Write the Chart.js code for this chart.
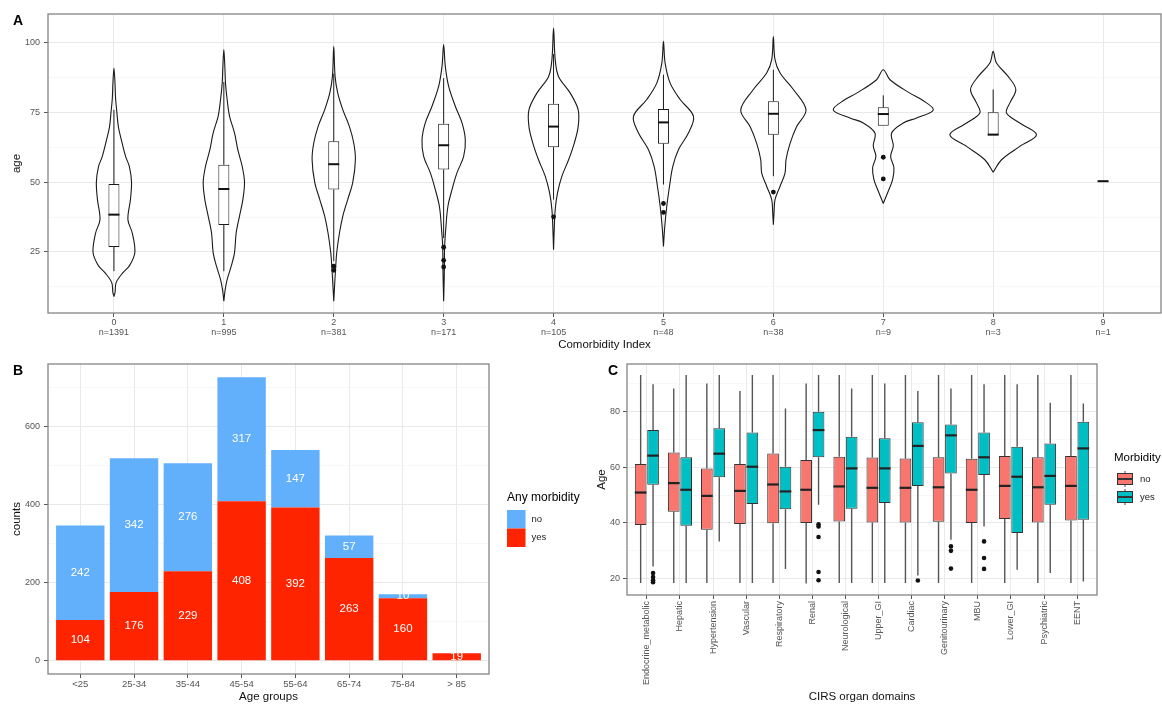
<!DOCTYPE html>
<html><head><meta charset="utf-8">
<script src="https://cdn.jsdelivr.net/npm/chart.js@4.4.1/dist/chart.umd.min.js"></script>
<style>
html,body{margin:0;padding:0;background:#fff;width:1162px;height:704px;overflow:hidden;font-family:'Liberation Sans',Arial,sans-serif;}
.wrap{position:absolute;}
.tag{position:absolute;font-weight:bold;font-size:14px;line-height:14px;color:#000;z-index:5;}
</style></head><body>
<div class="wrap" style="left:0;top:0;width:1162px;height:352px"><canvas id="cA"></canvas></div>
<div class="wrap" style="left:0;top:352px;width:590px;height:352px"><canvas id="cB"></canvas></div>
<div class="wrap" style="left:590px;top:352px;width:572px;height:352px"><canvas id="cC"></canvas></div>
<div class="tag" style="left:13px;top:13px">A</div>
<div class="tag" style="left:13px;top:363px">B</div>
<div class="tag" style="left:608px;top:363px">C</div>
<script>
// ---------------- DATA ----------------
// Panel A: Comorbidity index vs age (violin + box)
const comorbidityIndex = ['0','1','2','3','4','5','6','7','8','9'];
const comorbidityN = [1391, 995, 381, 171, 105, 48, 38, 9, 3, 1];
const violinAges = [
  [9, 10.5, 14, 17.5, 20, 24.7, 31.8, 36.6, 43.8, 50, 55.7, 59.3, 65.3, 70, 75, 80, 86, 91],
  [7.3, 11.5, 15.1, 19.9, 24.7, 31.8, 37.8, 43.8, 50, 55.7, 61.7, 67.7, 73.7, 79.7, 85.6, 91.6, 97.6],
  [7.3, 13.9, 19.9, 24.7, 31.8, 37.8, 43.8, 50, 58.1, 64.1, 70.1, 76.1, 82.1, 88, 98.8],
  [7.3, 17.5, 27, 34.2, 41.4, 47.4, 53.4, 59.3, 65.3, 71.3, 77.3, 84.5, 91.6, 99.4],
  [25.8, 33, 40.2, 46.2, 52.2, 58, 64, 70, 76, 82, 88, 94, 105.4],
  [27, 34.2, 41.4, 48.6, 55.7, 61.7, 67.7, 73.7, 79.7, 85.6, 92.8, 100.6],
  [34.8, 39, 43.8, 48.6, 53.3, 58.1, 64, 70, 76, 83.3, 89.2, 94, 102.3],
  [42.4, 46.8, 51, 55.2, 59.3, 63, 67.7, 71.3, 73.1, 76, 79.7, 82, 86.8, 90.4],
  [53.6, 58.1, 62.9, 67.1, 71.3, 74.9, 78.5, 83.3, 88, 92.8, 97]
];
const violinHalfWidths = [
  [0, .01, .02, .08, .14, .19, .167, .127, .15, .16, .14, .106, .067, .04, .027, .015, .009, 0],
  [0, .012, .03, .067, .097, .112, .142, .173, .188, .167, .127, .097, .052, .03, .015, .009, 0],
  [0, .009, .018, .027, .052, .082, .127, .173, .197, .182, .142, .082, .036, .012, 0],
  [0, .006, .009, .021, .039, .076, .121, .182, .197, .167, .106, .045, .015, 0],
  [0, .006, .015, .036, .076, .136, .188, .224, .224, .152, .045, .015, 0],
  [0, .012, .03, .055, .085, .136, .227, .273, .152, .061, .015, 0],
  [0, .006, .015, .061, .106, .115, .152, .212, .297, .182, .061, .015, 0],
  [0, .045, .085, .097, .067, .091, .076, .182, .303, .455, .348, .242, .061, 0],
  [0, .076, .242, .394, .242, .121, .152, .206, .136, .03, 0]
];
const ciQ1     = [26.8, 34.7, 47.4, 54.6, 62.6, 63.8, 67.1, 70.3, 67.1, 50.4];
const ciMedian = [38.4, 47.6, 56.5, 63.3, 70.0, 71.5, 74.6, 74.5, 67.1, 50.4];
const ciQ3     = [49.4, 56.3, 64.7, 71.0, 78.2, 76.3, 79.1, 76.9, 75.1, 50.4];
const ciLow    = [18.1, 18.1, 21.7, 30.0, 43.8, 49.2, 52.2, 70.3, 67.1, 50.4];
const ciHigh   = [76.0, 86.0, 89.0, 87.4, 96.0, 88.6, 90.4, 81.2, 83.3, 50.4];
const ciOutliers = [[], [], [19.9, 18.4], [26.7, 22, 19.6], [37.6], [42.4, 39.2], [46.5], [59, 51.2], [], []];
const ageTicksA = [12.5, 25, 37.5, 50, 62.5, 75, 87.5, 100];

// Panel B: Age groups, stacked counts
const ageGroups = ['<25', '25-34', '35-44', '45-54', '55-64', '65-74', '75-84', '> 85'];
const morbidityYes = [104, 176, 229, 408, 392, 263, 160, 19];
const morbidityNo  = [242, 342, 276, 317, 147, 57, 10, 0];
const countTicksB = [0, 100, 200, 300, 400, 500, 600, 700];

// Panel C: CIRS organ domains, age boxplots by morbidity
const domains = ['Endocrine_metabolic','Hepatic','Hypertension','Vascular','Respiratory','Renal','Neurological','Upper_GI','Cardiac','Genitourinary','MBU','Lower_GI','Psychiatric','EENT'];
const noQ1   = [39.2, 44.0, 37.5, 39.6, 39.8, 39.9, 40.5, 40.1, 40.1, 40.4, 39.9, 41.4, 40.1, 40.8];
const noMed  = [50.9, 54.3, 49.7, 51.5, 53.8, 51.9, 53.1, 52.6, 52.6, 52.8, 51.9, 53.3, 52.8, 53.3];
const noQ3   = [61.2, 65.3, 59.6, 61.2, 65.0, 62.6, 63.8, 63.5, 63.2, 63.6, 63.1, 64.1, 63.6, 64.1];
const noLow  = [18.3, 18.3, 18.3, 18.3, 18.3, 18.1, 18.3, 18.3, 18.3, 18.3, 18.3, 18.3, 18.3, 18.3];
const noHigh = [93.2, 88.4, 90.2, 87.5, 93.2, 90.2, 93.2, 93.2, 93.2, 93.2, 93.2, 93.2, 93.2, 93.2];
const noOutliers = [[], [], [], [], [], [], [], [], [], [], [], [], [], []];
const yesQ1   = [53.7, 38.9, 56.4, 46.8, 44.9, 63.6, 45.1, 47.1, 53.3, 57.8, 57.2, 36.3, 46.5, 41.1];
const yesMed  = [64.2, 51.9, 64.9, 60.2, 51.3, 73.4, 59.6, 59.6, 67.7, 71.5, 63.6, 56.6, 56.9, 66.8];
const yesQ3   = [73.4, 63.6, 74.1, 72.5, 60.2, 80.0, 71.0, 70.5, 76.2, 75.4, 72.5, 67.4, 68.6, 76.4];
const yesLow  = [24.3, 18.3, 33.3, 18.3, 23.4, 46.5, 18.3, 18.3, 21.0, 33.9, 38.7, 23.1, 21.9, 18.9];
const yesHigh = [89.9, 93.2, 93.2, 93.2, 81.2, 93.2, 88.4, 90.2, 87.5, 88.4, 89.9, 89.9, 83.2, 83.0];
const yesOutliers = [[21.9, 20.5, 19.3, 18.6], [], [], [], [], [39.5, 38.7, 34.9, 22.3, 19.3], [], [], [19.2], [31.5, 29.9, 23.5], [33.3, 27.3, 23.4], [], [], []];
const ageTicksC = [20, 30, 40, 50, 60, 70, 80, 90];

// ---------------- STYLE / HELPERS ----------------
const FONT = "'Liberation Sans', Arial, Helvetica, sans-serif";
Chart.defaults.font.family = FONT;
Chart.defaults.color = '#4d4d4d';
const RED_B = '#FF2400', BLUE_B = '#62AFFC';
const RED_C = '#F8766D', TEAL_C = '#00BFC4';

function gridFor(isMajor) {
  return {
    color: c => (c.tick && isMajor(c.tick.value)) ? '#e9e9e9' : '#f4f4f4',
    lineWidth: c => (c.tick && isMajor(c.tick.value)) ? 1 : 0.6,
    tickColor: c => (c.tick && isMajor(c.tick.value)) ? '#555' : 'rgba(0,0,0,0)',
    tickLength: 4, tickWidth: 1, offset: false
  };
}

const panelBorder = {
  id: 'panelBorder',
  afterDraw(chart) {
    const a = chart.chartArea, ctx = chart.ctx;
    ctx.save(); ctx.strokeStyle = '#858585'; ctx.lineWidth = 1.3;
    ctx.strokeRect(a.left, a.top, a.right - a.left, a.bottom - a.top);
    ctx.restore();
  }
};

const boxDetail = {
  id: 'boxDetail',
  beforeDatasetsDraw(chart, args, o) {
    const ys = chart.scales.y, ctx = chart.ctx;
    chart.data.datasets.forEach((ds, di) => {
      if (!ds.stats) return;
      chart.getDatasetMeta(di).data.forEach((bar, j) => {
        ctx.save(); ctx.strokeStyle = o.whiskerColor; ctx.lineWidth = o.whiskerWidth;
        ctx.beginPath();
        ctx.moveTo(bar.x, ys.getPixelForValue(ds.stats.high[j])); ctx.lineTo(bar.x, ys.getPixelForValue(ds.stats.q3[j]));
        ctx.moveTo(bar.x, ys.getPixelForValue(ds.stats.q1[j])); ctx.lineTo(bar.x, ys.getPixelForValue(ds.stats.low[j]));
        ctx.stroke(); ctx.restore();
      });
    });
  },
  afterDatasetsDraw(chart, args, o) {
    const ys = chart.scales.y, ctx = chart.ctx;
    chart.data.datasets.forEach((ds, di) => {
      if (!ds.stats) return;
      chart.getDatasetMeta(di).data.forEach((bar, j) => {
        const w = bar.width / 2;
        const ym = ys.getPixelForValue(ds.stats.med[j]);
        ctx.save(); ctx.strokeStyle = o.medianColor; ctx.lineWidth = o.medianWidth;
        ctx.beginPath(); ctx.moveTo(bar.x - w, ym); ctx.lineTo(bar.x + w, ym); ctx.stroke();
        ctx.fillStyle = '#111';
        (ds.stats.out[j] || []).forEach(v => {
          ctx.beginPath(); ctx.arc(bar.x, ys.getPixelForValue(v), o.pointRadius, 0, Math.PI * 2); ctx.fill();
        });
        ctx.restore();
      });
    });
  }
};

const barLabels = {
  id: 'barLabels',
  afterDatasetsDraw(chart) {
    const ctx = chart.ctx;
    ctx.save(); ctx.fillStyle = '#fff'; ctx.font = '11.5px ' + FONT;
    ctx.textAlign = 'center'; ctx.textBaseline = 'middle';
    chart.data.datasets.forEach((ds, di) => {
      chart.getDatasetMeta(di).data.forEach((el, j) => {
        const v = ds.data[j].y;
        if (!v) return;
        ctx.fillText(String(v), el.x, (el.y + el.base) / 2);
      });
    });
    ctx.restore();
  }
};

const sideLegend = {
  id: 'sideLegend',
  afterDraw(chart, args, o) {
    if (!o || !o.title) return;
    const ctx = chart.ctx;
    ctx.save();
    ctx.fillStyle = '#000'; ctx.font = o.titleSize + 'px ' + FONT;
    ctx.textAlign = 'left'; ctx.textBaseline = 'middle';
    ctx.fillText(o.title, o.x, o.y);
    o.order.forEach((di, k) => {
      const ds = chart.data.datasets[di];
      const top = o.keyTop + k * o.key;
      const cx = o.x + o.keyInset + o.key / 2;
      if (o.glyph === 'box') {
        ctx.strokeStyle = '#444'; ctx.lineWidth = 1;
        ctx.beginPath(); ctx.moveTo(cx, top + 1); ctx.lineTo(cx, top + o.key - 1); ctx.stroke();
        ctx.fillStyle = ds.backgroundColor;
        ctx.fillRect(o.x + o.keyInset + 1.5, top + 3.5, o.key - 3, o.key - 7);
        ctx.strokeStyle = '#333';
        ctx.strokeRect(o.x + o.keyInset + 1.5, top + 3.5, o.key - 3, o.key - 7);
        ctx.lineWidth = 2;
        ctx.beginPath(); ctx.moveTo(o.x + o.keyInset + 1.5, top + o.key / 2); ctx.lineTo(o.x + o.keyInset + o.key - 1.5, top + o.key / 2); ctx.stroke();
      } else {
        ctx.fillStyle = ds.backgroundColor;
        ctx.fillRect(o.x + o.keyInset, top, o.key, o.key);
      }
      ctx.fillStyle = '#222'; ctx.font = o.labelSize + 'px ' + FONT;
      ctx.fillText(ds.label, o.x + o.keyInset + o.key + 6, top + o.key / 2);
    });
    ctx.restore();
  }
};

const common = {
  animation: false, responsive: true, maintainAspectRatio: false, events: [],
  plugins: { legend: { display: false }, tooltip: { enabled: false } }
};

// ---------------- PANEL A ----------------
const violinSets = violinAges.map((ages, i) => {
  const w = violinHalfWidths[i];
  const right = ages.map((a, k) => ({ x: i + w[k], y: a }));
  const left = ages.map((a, k) => ({ x: i - w[k], y: a })).reverse();
  return { type: 'line', order: 2, data: right.concat(left.slice(1)), borderColor: '#1a1a1a',
           borderWidth: 1.1, pointRadius: 0, tension: 0.35, fill: false };
});
new Chart(document.getElementById('cA'), {
  type: 'bar',
  data: { datasets: [
    { type: 'bar', order: 0, label: 'box',
      data: comorbidityIndex.map((_, i) => ({ x: i, y: [ciQ1[i], ciQ3[i]] })),
      backgroundColor: '#ffffff', borderColor: '#1a1a1a', borderWidth: 1, borderSkipped: false,
      categoryPercentage: 0.1, barPercentage: 1,
      stats: { q1: ciQ1, q3: ciQ3, med: ciMedian, low: ciLow, high: ciHigh, out: ciOutliers } },
    ...violinSets
  ] },
  options: Object.assign({}, common, {
    layout: { padding: { top: 14, right: 1, left: 0, bottom: 0 } },
    plugins: Object.assign({}, common.plugins, {
      boxDetail: { whiskerColor: '#1a1a1a', whiskerWidth: 1, medianColor: '#111', medianWidth: 2, pointRadius: 2.4 }
    }),
    scales: {
      x: { type: 'linear', min: -0.6, max: 9.527, offset: false,
        afterBuildTicks: ax => { ax.ticks = comorbidityIndex.map((_, i) => ({ value: i })); },
        afterFit: ax => { ax.height = 39; },
        ticks: { callback: (v, i) => [comorbidityIndex[i], 'n=' + comorbidityN[i]], font: { size: 9, lineHeight: 1.1 },
                 padding: 1, maxRotation: 0, autoSkip: false, color: '#555' },
        grid: gridFor(() => true), border: { display: false },
        title: { display: true, text: 'Comorbidity Index', color: '#111', font: { size: 11.5 }, padding: { top: 0, bottom: 0 } } },
      y: { type: 'linear', min: 3.1, max: 110.4,
        afterBuildTicks: ax => { ax.ticks = ageTicksA.map(v => ({ value: v })); },
        afterFit: ax => { ax.width = 48; },
        ticks: { callback: v => (v % 25 === 0 ? v : ''), font: { size: 9 }, padding: 4, autoSkip: false, color: '#555' },
        grid: gridFor(v => v % 25 === 0), border: { display: false },
        title: { display: true, text: 'age', color: '#111', font: { size: 11.5 }, padding: { top: 10, bottom: 0 } } }
    }
  }),
  plugins: [boxDetail, panelBorder]
});

// ---------------- PANEL B ----------------
new Chart(document.getElementById('cB'), {
  type: 'bar',
  data: { datasets: [
    { label: 'yes', data: morbidityYes.map((v, i) => ({ x: i, y: v })), backgroundColor: RED_B,
      categoryPercentage: 0.9, barPercentage: 1, borderWidth: 0 },
    { label: 'no', data: morbidityNo.map((v, i) => ({ x: i, y: v })), backgroundColor: BLUE_B,
      categoryPercentage: 0.9, barPercentage: 1, borderWidth: 0 }
  ] },
  options: Object.assign({}, common, {
    layout: { padding: { top: 12, right: 101, left: 0, bottom: 0 } },
    plugins: Object.assign({}, common.plugins, {
      sideLegend: { title: 'Any morbidity', titleSize: 12, labelSize: 9.5, x: 507, y: 146,
                    keyTop: 158, key: 18.5, keyInset: 0, order: [1, 0], glyph: 'rect' }
    }),
    scales: {
      x: { type: 'linear', stacked: true, min: -0.6, max: 7.6, offset: false,
        afterBuildTicks: ax => { ax.ticks = ageGroups.map((_, i) => ({ value: i })); },
        afterFit: ax => { ax.height = 30; },
        ticks: { callback: (v, i) => ageGroups[i], font: { size: 9.5 }, padding: 1, maxRotation: 0, autoSkip: false, color: '#555' },
        grid: gridFor(() => true), border: { display: false },
        title: { display: true, text: 'Age groups', color: '#111', font: { size: 11.5 }, padding: { top: 0, bottom: 0 } } },
      y: { type: 'linear', stacked: true, min: -34, max: 759,
        afterBuildTicks: ax => { ax.ticks = countTicksB.map(v => ({ value: v })); },
        afterFit: ax => { ax.width = 48; },
        ticks: { callback: v => (v % 200 === 0 ? v : ''), font: { size: 9 }, padding: 4, autoSkip: false, color: '#555' },
        grid: gridFor(v => v % 200 === 0), border: { display: false },
        title: { display: true, text: 'counts', color: '#111', font: { size: 11.5 }, padding: { top: 10, bottom: 0 } } }
    }
  }),
  plugins: [barLabels, panelBorder, sideLegend]
});

// ---------------- PANEL C ----------------
new Chart(document.getElementById('cC'), {
  type: 'bar',
  data: { datasets: [
    { label: 'no', data: domains.map((_, i) => ({ x: i, y: [noQ1[i], noQ3[i]] })),
      backgroundColor: RED_C, borderColor: '#333', borderWidth: 1, borderSkipped: false,
      categoryPercentage: 0.75, barPercentage: 0.94,
      stats: { q1: noQ1, q3: noQ3, med: noMed, low: noLow, high: noHigh, out: noOutliers } },
    { label: 'yes', data: domains.map((_, i) => ({ x: i, y: [yesQ1[i], yesQ3[i]] })),
      backgroundColor: TEAL_C, borderColor: '#333', borderWidth: 1, borderSkipped: false,
      categoryPercentage: 0.75, barPercentage: 0.94,
      stats: { q1: yesQ1, q3: yesQ3, med: yesMed, low: yesLow, high: yesHigh, out: yesOutliers } }
  ] },
  options: Object.assign({}, common, {
    layout: { padding: { top: 12, right: 65, left: 0, bottom: 0 } },
    plugins: Object.assign({}, common.plugins, {
      boxDetail: { whiskerColor: '#555', whiskerWidth: 1.4, medianColor: '#222', medianWidth: 2.2, pointRadius: 2.3 },
      sideLegend: { title: 'Morbidity', titleSize: 11.5, labelSize: 9.5, x: 524, y: 106,
                    keyTop: 118, key: 18, keyInset: 2, order: [0, 1], glyph: 'box' }
    }),
    scales: {
      x: { type: 'linear', min: -0.6, max: 13.6, offset: false,
        afterBuildTicks: ax => { ax.ticks = domains.map((_, i) => ({ value: i })); },
        afterFit: ax => { ax.height = 109; },
        ticks: { callback: (v, i) => domains[i], font: { size: 9 }, padding: 2, minRotation: 90, maxRotation: 90, autoSkip: false, color: '#555' },
        grid: gridFor(() => true), border: { display: false },
        title: { display: true, text: 'CIRS organ domains', color: '#111', font: { size: 11.5 }, padding: { top: 0, bottom: 0 } } },
      y: { type: 'linear', min: 14, max: 97.2,
        afterBuildTicks: ax => { ax.ticks = ageTicksC.map(v => ({ value: v })); },
        afterFit: ax => { ax.width = 37; },
        ticks: { callback: v => (v % 20 === 0 ? v : ''), font: { size: 9 }, padding: 3, autoSkip: false, color: '#555' },
        grid: gridFor(v => v % 20 === 0), border: { display: false },
        title: { display: true, text: 'Age', color: '#111', font: { size: 11.5 }, padding: { top: 5, bottom: 0 } } }
    }
  }),
  plugins: [boxDetail, panelBorder, sideLegend]
});
</script>
</body></html>
